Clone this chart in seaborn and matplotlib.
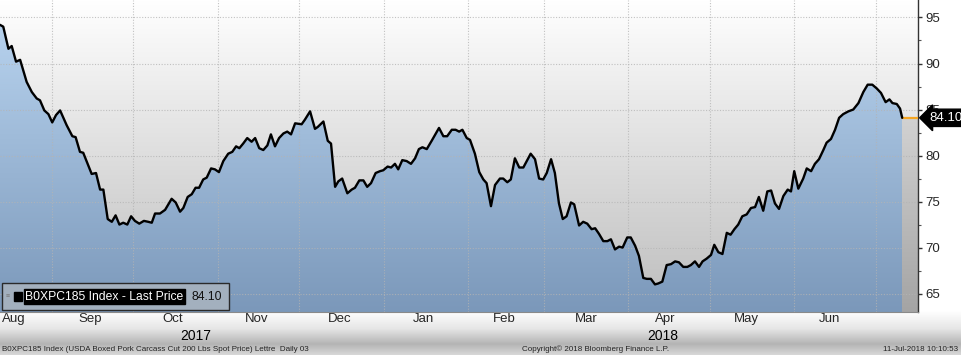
import numpy as np
import pandas as pd
import matplotlib
matplotlib.use("Agg")
import matplotlib.pyplot as plt
import matplotlib.dates as mdates
from matplotlib.colors import LinearSegmentedColormap
from matplotlib.patches import Rectangle
import seaborn as sns

# ---------------- data ----------------
start_date = "2017-08-13"
day_offsets = [
    0, 1.2, 3.1, 4.3, 5.9, 7.4, 9.8, 11.7, 13.5, 14.7, 16.3, 17.8, 19.2, 20.6, 22.1,
    24.5, 26.6, 27.8, 29.4, 30.6, 33.7, 35.3, 36.8, 38.0, 39.6, 41.1, 42.5, 43.9, 45.3,
    46.8, 48.2, 49.6, 51.2, 52.9, 54.5, 55.8, 57.0, 58.8, 60.7, 63.1, 64.6, 66.2, 67.4,
    69.0, 70.5, 71.9, 73.2, 74.7, 76.0, 77.6, 79.0, 80.5, 82.1, 83.9, 85.4, 86.8, 88.0,
    89.4, 90.9, 92.5, 93.8, 95.3, 96.8, 98.3, 99.6, 101.1, 102.6, 104.2, 105.6, 107.0,
    108.5, 110.9, 112.1, 114.0, 115.8, 116.8, 118.9, 120.5, 121.7, 123.2, 124.4, 125.8,
    127.7, 129.3, 130.5, 132.1, 133.6, 135.0, 136.4, 138.1, 139.7, 140.9, 142.5, 143.8,
    145.2, 146.4, 147.9, 149.5, 151.1, 152.6, 154.0, 155.3, 156.9, 158.7, 161.4, 163.0,
    164.4, 166.1, 167.5, 168.8, 170.0, 171.6, 172.8, 174.6, 176.2, 177.7, 178.9, 180.5,
    182.0, 183.8, 185.0, 186.5, 187.8, 189.3, 190.9, 192.4, 195.1, 196.7, 198.2, 199.7,
    201.0, 202.6, 204.0, 205.5, 206.9, 208.3, 209.9, 211.1, 212.9, 214.4, 215.9, 217.5,
    218.8, 220.2, 221.8, 223.3, 224.6, 226.1, 227.6, 228.9, 230.6, 231.9, 233.5, 234.9,
    236.5, 237.8, 239.3, 240.8, 242.0, 243.5, 245.1, 246.7, 248.2, 249.6, 251.2, 252.7,
    254.0, 255.5, 257.0, 258.3, 259.8, 261.4, 262.6, 264.1, 265.6, 267.2, 268.6, 270.0,
    271.4, 272.9, 274.5, 276.1, 277.6, 279.0, 280.6, 282.1, 283.5, 284.9, 286.4, 288.0,
    289.6, 290.8, 292.0, 293.5, 295.3, 296.6, 298.2, 299.6, 301.1, 302.7, 303.9, 305.5,
    307.0, 308.5, 310.0, 311.9, 313.7, 315.6, 317.4, 319.0, 320.7, 322.3, 323.9, 325.6,
    327.0, 328.1, 329.7, 330.9, 331.7,
]
prices = [
    94.2, 94.0, 91.6, 91.9, 90.2, 90.4, 88.0, 86.9, 86.2, 86.0, 84.9, 84.5, 83.6, 84.4, 84.9,
    83.3, 82.1, 82.0, 80.4, 80.3, 78.0, 78.1, 76.3, 76.3, 73.1, 72.8, 73.5, 72.5, 72.7,
    72.5, 73.4, 72.9, 72.6, 72.9, 72.8, 72.7, 73.7, 73.7, 74.1, 75.3, 74.9, 73.9, 74.3,
    75.5, 75.8, 76.5, 76.5, 77.4, 77.6, 78.6, 78.5, 78.2, 79.4, 80.2, 80.4, 81.0, 80.8,
    81.3, 81.9, 81.5, 81.9, 80.8, 80.6, 81.1, 82.3, 81.0, 81.9, 82.4, 82.6, 82.3,
    83.5, 83.4, 83.9, 84.8, 82.9, 83.1, 83.7, 81.6, 81.3, 76.6, 77.2, 77.5,
    75.9, 76.3, 76.5, 77.3, 77.3, 76.6, 77.0, 78.1, 78.3, 78.4, 78.8, 78.7,
    79.1, 78.5, 79.5, 79.4, 79.1, 79.7, 80.7, 80.9, 80.7, 81.6, 83.0, 82.1,
    82.1, 82.8, 82.8, 82.6, 82.8, 81.9, 81.7, 80.2, 78.2, 77.4, 77.0, 74.5,
    76.8, 77.5, 77.5, 77.1, 77.4, 79.7, 78.7, 78.7, 80.2, 79.6, 77.5, 77.4,
    78.1, 79.6, 78.1, 74.8, 73.1, 73.4, 74.9, 74.7, 72.4, 72.8, 72.6, 72.0,
    72.1, 71.5, 70.7, 70.7, 70.9, 69.8, 70.1, 70.0, 71.1, 71.1, 70.2, 69.1,
    66.7, 66.6, 66.6, 66.0, 66.1, 66.3, 68.1, 68.2, 68.5, 68.4, 67.9, 67.9,
    68.1, 68.5, 67.9, 68.5, 68.8, 69.2, 70.3, 69.5, 69.3, 71.6, 71.4, 72.0,
    72.5, 73.4, 73.6, 74.3, 74.4, 75.5, 74.0, 76.1, 76.2, 74.8, 74.2, 75.6,
    76.3, 76.1, 78.3, 76.4, 77.5, 78.6, 78.3, 79.1, 79.6, 80.6, 81.4, 81.8,
    82.8, 84.1, 84.5, 84.8, 85.0, 85.7, 86.9, 87.7, 87.7, 87.3, 86.8, 85.8,
    86.1, 85.7, 85.6, 85.1, 84.1,
]
last_price = 84.10
y_ticks = [65, 70, 75, 80, 85, 90, 95]
month_labels = ["Aug", "Sep", "Oct", "Nov", "Dec", "Jan", "Feb", "Mar", "Apr", "May", "Jun"]
month_label_days = [5.0, 33.0, 63.5, 94.5, 125.0, 155.5, 185.5, 215.5, 244.5, 274.5, 305.0]
series_label = "B0XPC185 Index - Last Price"
footer_left = "B0XPC185 Index (USDA Boxed Pork Carcass Cut 200 Lbs Spot Price) Lettre  Daily 03"
footer_mid = "Copyright\u00a9 2018 Bloomberg Finance L.P."
footer_right = "11-Jul-2018 10:10:53"
year_labels = [("2017", 72.0), ("2018", 243.8)]

# ---------------- style ----------------
sns.set_style("white")
plt.rcParams["font.family"] = ["Liberation Sans", "DejaVu Sans"]

W, H = 961, 355
fig = plt.figure(figsize=(W / 100, H / 100), dpi=100)
fig.patch.set_facecolor("white")

# bottom band (figure level)
band = fig.add_axes([0, 0, 1, 44 / H], zorder=0)
band.set_axis_off()
band_cmap = LinearSegmentedColormap.from_list(
    "band", [(0, "#d8d8d8"), (0.25, "#b4b4b4"), (0.6, "#e6e6e6"), (1, "#ffffff")])
band.imshow(np.linspace(0, 1, 256).reshape(-1, 1), aspect="auto", cmap=band_cmap,
            origin="lower", extent=[0, 1, 0, 1])
band.set_xlim(0, 1); band.set_ylim(0, 1)

plot_h = 312
ax = fig.add_axes([0, (H - plot_h) / H, 918 / W, plot_h / H], zorder=2)

start = pd.Timestamp(start_date)
dates = start + pd.to_timedelta(day_offsets, unit="D")
df = pd.DataFrame({"date": dates, "price": prices})

ymin, ymax = 63.0, 96.9
x0 = mdates.date2num(start)
x_end = mdates.date2num(start + pd.Timedelta(days=337.5))
x_last = mdates.date2num(dates[-1])

# plot background gradient
bg_cmap = LinearSegmentedColormap.from_list("bg", ["#bdbdbd", "#ffffff"])
ax.imshow(np.linspace(0, 1, 256).reshape(-1, 1), aspect="auto", cmap=bg_cmap,
          origin="lower", extent=[x0, x_end, ymin, ymax], zorder=0)

# blue gradient fill under the line
poly = ax.fill_between(df["date"], df["price"], ymin, color="none", lw=0, zorder=1)
blue_cmap = LinearSegmentedColormap.from_list("bl", ["#7b98ba", "#bcd7f2"])
im = ax.imshow(np.linspace(0, 1, 256).reshape(-1, 1), aspect="auto", cmap=blue_cmap,
               origin="lower", extent=[x0, x_end, ymin, ymax], zorder=1)
im.set_clip_path(poly.get_paths()[0], transform=ax.transData)

# gray strip after last data point
gray_cmap = LinearSegmentedColormap.from_list("gr", ["#a4a4a4", "#d2d2d2"])
ax.imshow(np.linspace(0, 1, 256).reshape(-1, 1), aspect="auto", cmap=gray_cmap,
          origin="lower", extent=[x_last, x_end, ymin, last_price], zorder=1)

# grid
for v in y_ticks:
    ax.axhline(v, color="#b4b4b4", lw=0.8, ls=(0, (1, 1.5)), zorder=2, alpha=0.8)
month_starts = pd.date_range("2017-09-01", "2018-07-01", freq="MS")
for m in month_starts:
    ax.axvline(m, color="#b4b4b4", lw=0.8, ls=(0, (1, 1.5)), zorder=2, alpha=0.8)

# line
sns.lineplot(data=df, x="date", y="price", ax=ax, color="black", lw=1.7, zorder=4)
ax.plot([x_last, x_end], [last_price, last_price], color="#f5a623", lw=1.6, zorder=3)

ax.set_xlim(x0, x_end)
ax.set_ylim(ymin, ymax)
ax.set_xlabel(""); ax.set_ylabel("")

# y axis on right
ax.yaxis.tick_right()
ax.set_yticks(y_ticks)
ax.set_yticklabels([str(v) for v in y_ticks], fontsize=9.5)
ax.set_yticks([v + 2.5 for v in y_ticks[:-1]], minor=True)
ax.tick_params(axis="y", which="major", direction="out", length=3, width=1, color="#333333", pad=2)
ax.tick_params(axis="y", which="minor", direction="out", length=2, width=0.8, color="#555555")

# x axis: ticks at month starts, labels mid-month
ax.set_xticks(month_starts)
ax.set_xticklabels([])
ax.set_xticks([start + pd.Timedelta(days=d) for d in month_label_days], minor=True)
ax.set_xticklabels(month_labels, minor=True)
ax.tick_params(axis="x", which="major", direction="out", length=3, color="#666666")
ax.tick_params(axis="x", which="minor", length=0, labelsize=9.5, pad=1)

for s in ["top", "left"]:
    ax.spines[s].set_visible(False)
ax.spines["right"].set_color("#333333")
ax.spines["right"].set_linewidth(1)
ax.spines["bottom"].set_color("#8a8a8a")
ax.spines["bottom"].set_linewidth(0.8)

# year labels
for txt, d in year_labels:
    ax.text(start + pd.Timedelta(days=d), -0.056, txt, transform=ax.get_xaxis_transform(),
            ha="center", va="top", fontsize=10, color="black")

# last price tag
ax.text(1.012, last_price, f"{last_price:.2f}", transform=ax.get_yaxis_transform(),
        ha="left", va="center", color="white", fontsize=9.5, zorder=10, clip_on=False,
        bbox=dict(boxstyle="larrow,pad=0.2", fc="black", ec="black"))

# legend box
ax.add_patch(Rectangle((2 / 918, 2 / plot_h), 227 / 918, 27 / plot_h, transform=ax.transAxes,
                       fc="#a3b0be", ec="#2a2a2a", lw=1, zorder=6))
ax.add_patch(Rectangle((14 / 918, 11 / plot_h), 8 / 918, 9 / plot_h, transform=ax.transAxes,
                       fc="black", ec="black", zorder=7))
ax.text(6 / 918, 15.5 / plot_h, "\u2261", transform=ax.transAxes, fontsize=5, color="#777777",
        va="center", ha="left", zorder=7)
ax.text(25 / 918, 15.5 / plot_h, series_label, transform=ax.transAxes, fontsize=8.7,
        color="white", va="center", ha="left", zorder=8,
        bbox=dict(boxstyle="square,pad=0.12", fc="black", ec="black"))
ax.text(192 / 918, 15.5 / plot_h, f"{last_price:.2f}", transform=ax.transAxes, fontsize=8.7,
        color="#111111", va="center", ha="left", zorder=8)

# footer
fig.text(2 / W, 2 / H, footer_left, fontsize=5.8, color="#222222", ha="left", va="bottom")
fig.text(522 / W, 2 / H, footer_mid, fontsize=5.8, color="#222222", ha="left", va="bottom")
fig.text(958 / W, 2 / H, footer_right, fontsize=5.8, color="#222222", ha="right", va="bottom")

fig.savefig("out.png", dpi=100)
